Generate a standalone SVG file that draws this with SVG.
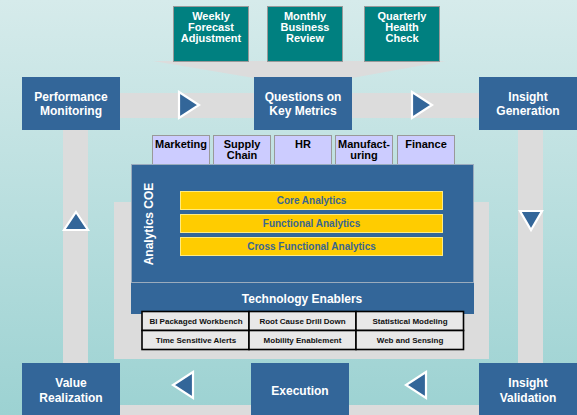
<svg xmlns="http://www.w3.org/2000/svg" width="577" height="415" viewBox="0 0 577 415">
<defs>
<linearGradient id="bg" x1="0" y1="0" x2="0" y2="1">
<stop offset="0" stop-color="#d6ebeb"/>
<stop offset="1" stop-color="#9cd2d2"/>
</linearGradient>
<style>
text{font-family:"Liberation Sans",Arial,sans-serif;font-weight:bold;text-anchor:middle}
.node{fill:#336699}
.nt{fill:#fff;font-size:12px}
.teal{fill:#008080;stroke:#999;stroke-width:1}
.tt{fill:#fff;font-size:11px}
.bar{fill:#dcdcdc}
.tri{fill:#336699;stroke:#fff;stroke-width:2.2}
.tab{fill:#ccccff;stroke:#999;stroke-width:1}
.tabt{fill:#000;font-size:11px}
.yb{fill:#ffcc00;stroke:#ffeb80;stroke-width:1}
.yt{fill:#3a6690;font-size:10px}
.cell{fill:#e8e8e8;stroke:#000;stroke-width:1.6}
.ct{fill:#111;font-size:8px}
</style>
</defs>
<rect width="577" height="415" fill="url(#bg)"/>

<g id="connectors">
<polygon class="bar" points="153,61 446,61 352,78 254,78"/>
<rect class="bar" x="63" y="93" width="480" height="25"/>
<rect class="bar" x="63" y="93" width="25" height="330"/>
<rect class="bar" x="518" y="93" width="25" height="330"/>
<rect class="bar" x="63" y="405" width="480" height="25"/>
<rect class="bar" x="114" y="202" width="375" height="157"/>
<polygon class="tri" points="179,92 199,105 179,118"/>
<polygon class="tri" points="412,92 432,105 412,118"/>
<polygon class="tri" points="520,211 542,211 531,230"/>
<polygon class="tri" points="193,372 173,385 193,398"/>
<polygon class="tri" points="426,372 406,385 426,398"/>
<polygon class="tri" points="76,212 88,230 64,230"/>
</g>

<g id="weekly">
<rect class="teal" x="173.5" y="6.5" width="75" height="55"/>
<text class="tt" x="211" y="20">Weekly</text>
<text class="tt" x="211" y="31">Forecast</text>
<text class="tt" x="211" y="42">Adjustment</text>
</g>
<g id="monthly">
<rect class="teal" x="267.5" y="6.5" width="75" height="55"/>
<text class="tt" x="305" y="20">Monthly</text>
<text class="tt" x="305" y="31">Business</text>
<text class="tt" x="305" y="42">Review</text>
</g>
<g id="quarterly">
<rect class="teal" x="364.5" y="6.5" width="75" height="55"/>
<text class="tt" x="402" y="20">Quarterly</text>
<text class="tt" x="402" y="31">Health</text>
<text class="tt" x="402" y="42">Check</text>
</g>

<g id="performance-monitoring">
<rect class="node" x="22" y="77" width="98" height="53"/>
<text class="nt" x="71" y="101">Performance</text>
<text class="nt" x="71" y="115">Monitoring</text>
</g>
<g id="questions">
<rect class="node" x="254" y="77" width="98" height="53"/>
<text class="nt" x="303" y="101">Questions on</text>
<text class="nt" x="303" y="115">Key Metrics</text>
</g>
<g id="insight-generation">
<rect class="node" x="479" y="77" width="98" height="53"/>
<text class="nt" x="528" y="101">Insight</text>
<text class="nt" x="528" y="115">Generation</text>
</g>

<g id="tabs">
<rect class="tab" x="152.5" y="135.5" width="57" height="30"/>
<text class="tabt" x="181" y="148">Marketing</text>
<rect class="tab" x="213.5" y="135.5" width="57" height="30"/>
<text class="tabt" x="242" y="148">Supply</text>
<text class="tabt" x="242" y="159">Chain</text>
<rect class="tab" x="274.5" y="135.5" width="57" height="30"/>
<text class="tabt" x="303" y="148">HR</text>
<rect class="tab" x="335.5" y="135.5" width="57" height="30"/>
<text class="tabt" x="364" y="148">Manufact-</text>
<text class="tabt" x="364" y="159">uring</text>
<rect class="tab" x="397.5" y="135.5" width="57" height="30"/>
<text class="tabt" x="426" y="148">Finance</text>
</g>

<g id="analytics-coe">
<rect x="131" y="283" width="343" height="31" fill="#336699"/>
<rect x="131.5" y="164.5" width="342" height="118" fill="#336699" stroke="#9aabbd" stroke-width="1"/>
<text class="nt" transform="translate(152.5,224) rotate(-90)">Analytics COE</text>
<rect class="yb" x="180.5" y="191.5" width="262" height="18"/>
<text class="yt" x="311.5" y="204">Core Analytics</text>
<rect class="yb" x="180.5" y="214.5" width="262" height="18"/>
<text class="yt" x="311.5" y="227">Functional Analytics</text>
<rect class="yb" x="180.5" y="237.5" width="262" height="18"/>
<text class="yt" x="311.5" y="250">Cross Functional Analytics</text>
<text class="nt" x="302" y="303">Technology Enablers</text>
</g>

<g id="technology-table">
<rect class="cell" x="142" y="311.5" width="107" height="19"/>
<rect class="cell" x="249" y="311.5" width="107" height="19"/>
<rect class="cell" x="356" y="311.5" width="107.5" height="19"/>
<rect class="cell" x="142" y="330.5" width="107" height="19"/>
<rect class="cell" x="249" y="330.5" width="107" height="19"/>
<rect class="cell" x="356" y="330.5" width="107.5" height="19"/>
<text class="ct" x="196" y="324">BI Packaged Workbench</text>
<text class="ct" x="302.5" y="324">Root Cause Drill Down</text>
<text class="ct" x="410" y="324">Statistical Modeling</text>
<text class="ct" x="196" y="343">Time Sensitive Alerts</text>
<text class="ct" x="302.5" y="343">Mobility Enablement</text>
<text class="ct" x="410" y="343">Web and Sensing</text>
</g>

<g id="value-realization">
<rect class="node" x="22" y="363" width="98" height="52"/>
<text class="nt" x="71" y="387">Value</text>
<text class="nt" x="71" y="402">Realization</text>
</g>
<g id="execution">
<rect class="node" x="251" y="363" width="98" height="52"/>
<text class="nt" x="300" y="395">Execution</text>
</g>
<g id="insight-validation">
<rect class="node" x="479" y="363" width="98" height="52"/>
<text class="nt" x="528" y="387">Insight</text>
<text class="nt" x="528" y="402">Validation</text>
</g>
</svg>
